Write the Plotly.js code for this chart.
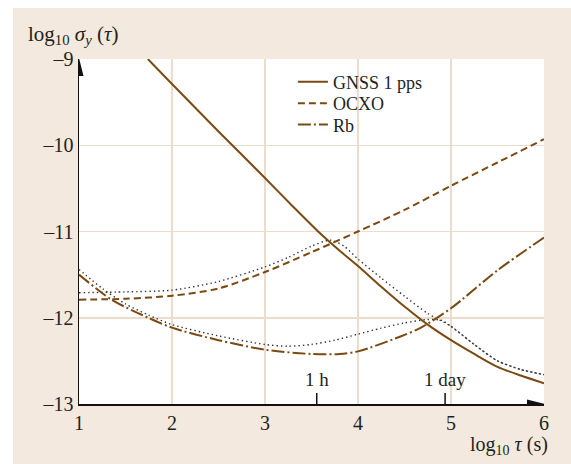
<!DOCTYPE html>
<html><head><meta charset="utf-8">
<script src="https://cdn.plot.ly/plotly-3.0.1.min.js"></script>
<style>
html,body{margin:0;padding:0;background:#fff;}
#chart{position:absolute;left:13px;top:8px;width:558px;height:456px;}
</style></head>
<body><div id="chart"></div>
<script>
// log10 tau (s)
const gnssX = [1.74, 2, 2.5, 3, 3.3, 3.6, 3.8, 4, 4.25, 4.5, 4.75, 5, 5.25, 5.5, 5.75, 6];
const gnssY = [-9, -9.29, -9.84, -10.38, -10.71, -11.03, -11.22, -11.40, -11.64, -11.87, -12.08, -12.26, -12.42, -12.57, -12.67, -12.76];

const ocxoX = [1, 1.5, 2, 2.5, 3, 3.5, 4, 4.5, 5, 5.5, 6];
const ocxoY = [-11.79, -11.78, -11.745, -11.66, -11.47, -11.24, -11.0, -10.75, -10.47, -10.2, -9.93];

const rbX = [1, 1.35, 1.745, 2, 2.5, 3, 3.5, 3.8, 4, 4.45, 4.667, 5, 5.5, 6];
const rbY = [-11.50, -11.79, -12.0, -12.115, -12.26, -12.37, -12.42, -12.42, -12.39, -12.22, -12.12, -11.89, -11.45, -11.07];

const ocxoGnssX = [1, 1.5, 2, 2.5, 3, 3.25, 3.5, 3.7, 3.85, 4, 4.25, 4.5, 4.75, 5, 5.25, 5.5, 5.75, 6];
const ocxoGnssY = [-11.71, -11.70, -11.68, -11.58, -11.41, -11.30, -11.17, -11.10, -11.17, -11.32, -11.54, -11.75, -11.95, -12.10, -12.31, -12.50, -12.60, -12.66];

const rbGnssX = [1, 1.25, 1.5, 1.75, 2, 2.5, 3, 3.25, 3.5, 3.75, 4, 4.25, 4.5, 4.75, 4.9, 5, 5.25, 5.5, 5.75, 6];
const rbGnssY = [-11.44, -11.66, -11.84, -11.97, -12.08, -12.21, -12.31, -12.33, -12.31, -12.26, -12.19, -12.12, -12.06, -12.02, -12.03, -12.10, -12.31, -12.50, -12.60, -12.66];

const xTicks = [1, 2, 3, 4, 5, 6];
const xTickText = ['1', '2', '3', '4', '5', '6'];
const yTicks = [-13, -12, -11, -10, -9];
const yTickText = ['–13', '–12', '–11', '–10', '–9'];

const markTaus = [3600, 86400];
const markLabels = ['1 h', '1 day'];

const names = ['GNSS 1 pps', 'OCXO', 'Rb'];

const brown = '#7a4a12';
const serif = 'Liberation Serif';

const traces = [
  {x: ocxoGnssX, y: ocxoGnssY, mode: 'lines', showlegend: false, hoverinfo: 'skip',
   line: {color: '#333333', width: 1.4, dash: '1.4px,3px', shape: 'spline', smoothing: 0.7}},
  {x: rbGnssX, y: rbGnssY, mode: 'lines', showlegend: false, hoverinfo: 'skip',
   line: {color: '#333333', width: 1.4, dash: '1.4px,3px', shape: 'spline', smoothing: 0.7}},
  {x: gnssX, y: gnssY, mode: 'lines', name: names[0], legend: 'legend',
   line: {color: brown, width: 2, shape: 'spline', smoothing: 0.7}},
  {x: ocxoX, y: ocxoY, mode: 'lines', name: names[1], legend: 'legend2',
   line: {color: brown, width: 2, dash: '7px,4px', shape: 'spline', smoothing: 0.8}},
  {x: rbX, y: rbY, mode: 'lines', name: names[2], legend: 'legend3',
   line: {color: brown, width: 2, dash: '13px,3px,2px,3px', shape: 'spline', smoothing: 0.8}}
];

const shapes = [
  {type: 'path', xref: 'x', yref: 'y', xsizemode: 'pixel', ysizemode: 'pixel',
   xanchor: 1, yanchor: -9, path: 'M -4.5,-17 L 4.5,-17 L 0,1 Z',
   fillcolor: '#111', line: {width: 0}},
  {type: 'path', xref: 'x', yref: 'y', xsizemode: 'pixel', ysizemode: 'pixel',
   xanchor: 6, yanchor: -13, path: 'M -17,-4.5 L -17,4.5 L 1,0 Z',
   fillcolor: '#111', line: {width: 0}}
];
const annotations = [
  {xref: 'paper', yref: 'paper', x: 0, y: 1, xanchor: 'left', yanchor: 'middle',
   xshift: -53, yshift: 24, showarrow: false,
   text: 'log<sub>10</sub> <i>σ<sub>y</sub></i> (<i>τ</i>)',
   font: {family: serif, size: 21, color: '#231f20'}},
  {xref: 'paper', yref: 'paper', x: 1, y: 0, xanchor: 'right', yanchor: 'middle',
   xshift: 6, yshift: -41, showarrow: false,
   text: 'log<sub>10</sub> <i>τ</i> (s)',
   font: {family: serif, size: 20, color: '#231f20'}}
];
markTaus.forEach(function (t, i) {
  const lx = Math.log10(t);
  shapes.push({type: 'line', xref: 'x', yref: 'y', ysizemode: 'pixel', yanchor: -13,
    x0: lx, x1: lx, y0: 0, y1: 11, line: {color: '#111', width: 1.5}});
  annotations.push({xref: 'x', yref: 'y', x: lx, y: -13, xanchor: 'center', yanchor: 'bottom',
    yshift: 12, showarrow: false, text: markLabels[i],
    font: {family: serif, size: 19, color: '#231f20'}});
});

function leg(y) {
  return {x: 0.46, y: y, xanchor: 'left', yanchor: 'middle', bgcolor: 'rgba(0,0,0,0)',
    font: {family: serif, size: 18, color: '#231f20'}};
}

const layout = {
  width: 558, height: 456,
  margin: {l: 66, r: 27, t: 51, b: 60},
  paper_bgcolor: '#f3e9df',
  plot_bgcolor: '#ffffff',
  showlegend: true,
  legend: leg(0.933),
  legend2: leg(0.871),
  legend3: leg(0.809),
  xaxis: {range: [1, 6], tickvals: xTicks, ticktext: xTickText, ticks: '',
    showgrid: true, gridcolor: '#ecdccb', gridwidth: 1.5, zeroline: false,
    showline: true, linecolor: '#111', linewidth: 1.5,
    tickfont: {family: serif, size: 20, color: '#231f20'}},
  yaxis: {range: [-13, -9], tickvals: yTicks, ticktext: yTickText, ticks: '',
    showgrid: true, gridcolor: '#ecdccb', gridwidth: 1.5, zeroline: false,
    showline: true, linecolor: '#111', linewidth: 1.5,
    tickfont: {family: serif, size: 20, color: '#231f20'}},
  shapes: shapes,
  annotations: annotations
};

Plotly.newPlot('chart', traces, layout, {displayModeBar: false, staticPlot: true});
</script>
</body></html>
